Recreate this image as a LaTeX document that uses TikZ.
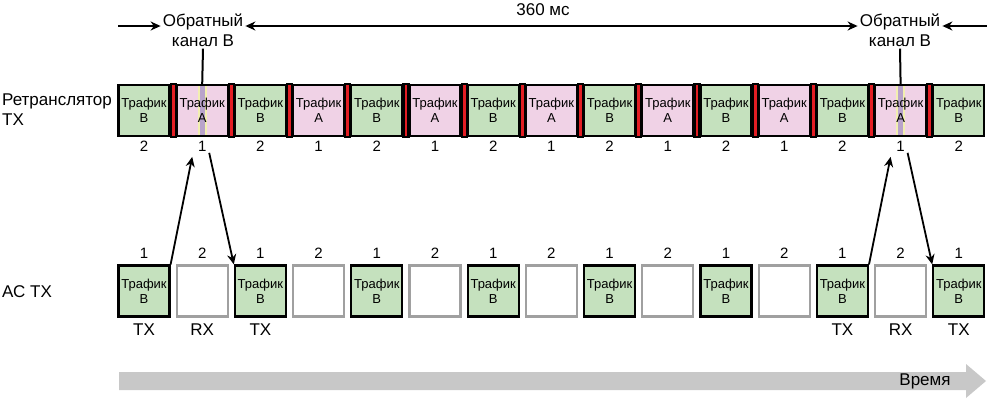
\documentclass[tikz,border=0pt]{standalone}
\usepackage{fontspec}
\setmainfont{Liberation Sans}
\usetikzlibrary{arrows.meta, positioning, calc}

\definecolor{trafB}{HTML}{C5E1BE}
\definecolor{trafA}{HTML}{F0D2E6}
\definecolor{guard}{HTML}{E31E24}
\definecolor{idle}{HTML}{A0A0A0}
\definecolor{timegray}{HTML}{C8C8C8}
\definecolor{fbyel}{HTML}{F2EFB0}
\definecolor{fbvio}{HTML}{B9A3CB}

\begin{document}
\begin{tikzpicture}[x=1pt, y=-1pt,
        slot/.style={draw, line width=2.2pt, minimum width=51pt, minimum height=51pt, inner sep=0pt, align=center, font=\fontsize{13}{15}\selectfont},
        num/.style={inner sep=1pt, font=\fontsize{15}{15}\selectfont},
        lbl/.style={inner sep=2pt, align=center, font=\fontsize{17}{20}\selectfont},
        arr/.style={-{Stealth[length=10pt, width=9pt]}, line width=1.8pt},
        stripe/.style={path picture={
            \fill[fbyel] ([xshift=-4.5pt]path picture bounding box.north) rectangle ([xshift=4.5pt]path picture bounding box.south);
            \fill[fbvio] ([xshift=-2.5pt]path picture bounding box.north) rectangle ([xshift=2.5pt]path picture bounding box.south);}},
        fb1/.style={stripe}, fb13/.style={stripe}]
    \useasboundingbox (0,0) rectangle (987,400);

    % repeater frame: slots 2/1 with guard bars
    \foreach \i in {0,...,14}{
        \ifodd\i
            \node[slot, fill=trafA, fb\i/.try] (t\i) at ({144+\i*58.2}, 110.5) {Трафик\\А};
            \node[num] (n\i) at ({144+\i*58.2}, 146) {1};
        \else
            \node[slot, fill=trafB] (t\i) at ({144+\i*58.2}, 110.5) {Трафик\\В};
            \node[num] (n\i) at ({144+\i*58.2}, 146) {2};
        \fi
    }
    \foreach \i [evaluate=\i as \j using int(\i+1)] in {0,...,13}
        \draw[line width=2.2pt, fill=guard] (t\i.north east) rectangle (t\j.south west);

    % subscriber frame
    \foreach \i in {0,...,14}{
        \ifodd\i
            \node[slot, draw=idle, fill=white] (b\i) at ({144+\i*58.2}, 291) {};
            \node[num] (m\i) at ({144+\i*58.2}, 253) {2};
        \else
            \node[slot, fill=trafB] (b\i) at ({144+\i*58.2}, 291) {Трафик\\В};
            \node[num] (m\i) at ({144+\i*58.2}, 253) {1};
        \fi
    }

    \node[lbl, anchor=west, align=left] (rep) at (0,110) {Ретранслятор\\TX};
    \node[lbl, anchor=west] (ms) at (0,292) {АС TX};

    \foreach \i/\t in {0/TX, 1/RX, 2/TX, 12/TX, 13/RX, 14/TX}
        \node[lbl] (x\i) at ({144+\i*58.2}, 330) {\t};

    % feedback channel marks and 360 ms span
    \node[lbl] (fbl) at (203,30) {Обратный\\канал В};
    \node[lbl] (fbr) at (900,30) {Обратный\\канал В};
    \node[lbl] (span) at (543,10) {360 мс};
    \coordinate (lstart) at (118,26);
    \coordinate (rend) at (987,26);
    \draw[-{Stealth[length=10pt, width=9pt]}, line width=2.5pt] (lstart) -- (fbl.west |- lstart);
    \draw[{Stealth[length=10pt, width=9pt]}-{Stealth[length=10pt, width=9pt]}, line width=2.5pt] (fbl.east |- lstart) -- (fbr.west |- lstart);
    \draw[-{Stealth[length=10pt, width=9pt]}, line width=2.5pt] (rend) -- (fbr.east |- rend);
    \draw[line width=2pt] (fbl.south) -- (t1.north);
    \draw[line width=2pt] (fbr.south) -- (t13.north);

    \draw[arr] (b0.north east) -- ($(n1.south)+(-10,4.5)$);
    \draw[arr] ($(n1.south)+(7,0.5)$) -- (b2.north west);
    \draw[arr] (b12.north east) -- ($(n13.south)+(-10,4.5)$);
    \draw[arr] ($(n13.south)+(7,0.5)$) -- (b14.north west);

    % time axis
    \fill[timegray] (119,372) -- (966,372) -- (966,364) -- (986,381) -- (966,398) -- (966,390) -- (119,390) -- cycle;
    \node[lbl] (time) at (925,381) {Время};
\end{tikzpicture}
\end{document}
